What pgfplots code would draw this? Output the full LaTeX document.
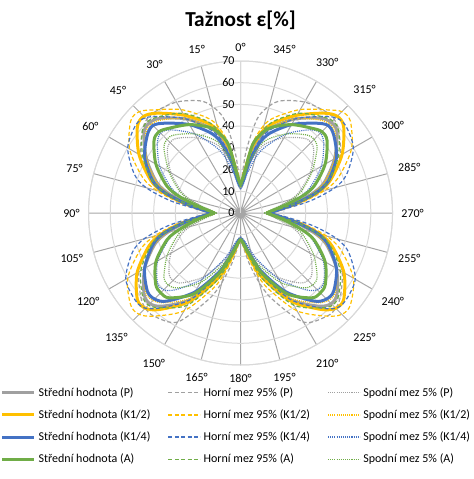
\documentclass[border=0pt]{standalone}
\usepackage{fontspec}
\setmainfont{Carlito}
\usepackage{pgfplots}
\usepackage{pgfplotstable}
\pgfplotsset{compat=1.18}
\usepgfplotslibrary{polar}

\definecolor{cP}{HTML}{A0A0A0}
\definecolor{cY}{HTML}{FFC000}
\definecolor{cB}{HTML}{4472C4}
\definecolor{cA}{HTML}{70AD47}
\definecolor{spoke}{HTML}{A6A6A6}
\definecolor{ring}{HTML}{D9D9D9}

% phi = 90 + angle (so that 0 deg is at the top, counter-clockwise)
\pgfplotstableread{
phi gm gu gl ym yu yl bm bu bl am au al
90 12 11 11 12 12 12 12 12 11 13 12 12
95 17 28 14 18 20 17 15 16 13 18 18 15
100 29 44 22 31 33 29 24 26 19 32 31 24
105 37 51 29 39 42 37 33 35 26 38 39 31
110 42 55 34 44 47 42 39 41 32 42 45 36
120 50 59 40 52 55 50 47 50 42 47 53 42
130 57 61 45 60 62 56 54 58 50 51 58 47
135 59 61 46 63 66 58 57 62 52 53 60 48
140 58 59 44 62 66 57 56 63 50 52 59 46
150 50 53 37 54 59 50 51 60 43 45 52 38
160 41 44 29 44 48 41 43 52 34 36 43 30
165 34 37 24 37 40 34 36 45 28 29 36 25
170 25 27 18 27 29 25 26 33 20 21 26 19
175 17 18 14 18 19 17 18 20 15 15 17 14
180 12 12 11 12 12 12 13 13 12 12 12 11
185 17 18 14 18 19 17 18 21 15 16 17 14
190 26 28 18 28 30 26 27 34 21 22 27 19
195 35 38 24 38 41 35 37 46 29 29 37 26
200 42 45 29 45 49 42 43 53 35 36 44 31
210 51 54 37 55 60 51 51 61 44 45 53 39
220 58 60 43 62 66 57 56 63 50 51 59 46
225 59 62 44 62 66 57 56 62 50 52 60 47
230 56 62 42 58 62 54 53 57 46 51 57 45
240 46 58 34 47 52 45 42 46 35 43 49 37
250 32 42 24 33 37 31 29 31 23 30 34 26
255 25 33 19 26 29 24 22 24 18 23 26 21
260 18 24 15 19 21 18 17 18 14 18 19 16
265 14 16 12 14 15 14 13 13 12 14 14 13
270 12 11 11 12 12 12 12 12 11 12 12 12
275 14 16 12 14 15 14 13 13 12 14 14 13
280 18 24 15 19 21 18 17 18 14 18 19 16
285 25 33 19 26 29 24 22 24 18 23 26 21
290 32 42 24 33 37 31 29 31 23 30 34 26
300 46 58 34 47 52 45 42 46 35 43 49 37
310 56 62 42 58 62 54 53 57 46 51 57 45
315 59 62 44 62 66 57 56 62 50 52 60 47
320 58 60 43 62 66 57 56 63 50 51 59 46
330 51 54 37 55 60 51 51 61 44 45 53 39
340 42 45 29 45 49 42 43 53 35 36 44 31
345 35 38 24 38 41 35 37 46 29 29 37 26
350 26 28 18 28 30 26 27 34 21 22 27 19
355 17 18 14 18 19 17 18 21 15 16 17 14
360 12 12 11 12 12 12 13 13 12 12 12 11
365 17 18 14 18 19 17 18 20 15 15 17 14
370 25 27 18 27 29 25 26 33 20 21 26 19
375 34 37 24 37 40 34 36 45 28 29 36 25
380 41 44 29 44 48 41 43 52 34 36 43 30
390 50 53 37 54 59 50 51 60 43 45 52 38
400 58 59 44 62 66 57 56 63 50 52 59 46
405 59 61 46 63 66 58 57 62 52 53 60 48
410 57 61 45 60 62 56 54 58 50 51 58 47
420 50 59 40 52 55 50 47 50 42 47 53 42
430 42 55 34 44 47 42 39 41 32 42 45 36
435 37 51 29 39 42 37 33 35 26 38 39 31
440 29 44 22 31 33 29 24 26 19 32 31 24
445 17 28 14 18 20 17 15 16 13 18 18 15
450 12 11 11 12 12 12 12 12 11 13 12 12
}\data

\tikzset{
  meanline/.style={line width=2.25pt, line join=round},
  upperline/.style={line width=0.9pt, dash pattern=on 3pt off 1.8pt},
  lowerline/.style={line width=0.9pt, dash pattern=on 0.8pt off 0.8pt},
}

% #1 line style, #2 colour, #3 table column
\newcommand{\lobes}[3]{%
  \addplot[#1, color=#2, smooth, forget plot, restrict x to domain=90:180] table[x=phi,y=#3]{\data};
  \addplot[#1, color=#2, smooth, forget plot, restrict x to domain=180:270] table[x=phi,y=#3]{\data};
  \addplot[#1, color=#2, smooth, forget plot, restrict x to domain=270:360] table[x=phi,y=#3]{\data};
  \addplot[#1, color=#2, smooth, forget plot, restrict x to domain=360:450] table[x=phi,y=#3]{\data};
}
% legend sample with hard-coded style: #1 colour, #2 line style, #3 text
\newcommand{\legitem}[3]{%
  \addlegendimage{legend image code/.code={\draw[#2, draw=#1, draw opacity=1] (0pt,0pt) -- (24pt,0pt);}}
  \addlegendentry{#3}
}

\begin{document}
\begin{tikzpicture}
\path[use as bounding box] (-180.4pt,159.75pt) rectangle (174.4pt,-199.5pt);
\node[font=\bfseries\fontsize{16}{19}\selectfont] at (0,144.75pt) {Tažnost ε[\%]};
\begin{polaraxis}[
  at={(0,0)}, anchor=origin,
  scale only axis, width=228pt, height=228pt,
  xmin=90, xmax=450, ymin=0, ymax=70,
  xtick={90,105,...,435},
  xticklabels={0°,15°,30°,45°,60°,75°,90°,105°,120°,135°,150°,165°,180°,195°,210°,225°,240°,255°,270°,285°,300°,315°,330°,345°},
  ytick={0,10,...,70},
  xmajorgrids, ymajorgrids,
  x grid style={color=spoke, line width=0.75pt},
  y grid style={color=ring, line width=0.75pt},
  axis line style={color=ring, line width=0.75pt},
  major tick length=0pt,
  tick label style={font=\fontsize{9}{11}\selectfont},
  xticklabel style={inner sep=6.5pt},
  /pgf/number format/assume math mode=true,
  yticklabel style={anchor=east, xshift=-1pt},
  legend columns=3, legend cell align=left,
  legend style={draw=none, fill=none, at={(0.488,-0.0555)}, anchor=north,
    font=\fontsize{9}{11}\selectfont, row sep=4.5pt,
    /tikz/every even column/.append style={column sep=11pt}},
]
\legitem{cP}{meanline}{Střední hodnota (P)}
\legitem{cP}{upperline}{Horní mez 95\% (P)}
\legitem{cP}{lowerline}{Spodní mez 5\% (P)}
\legitem{cY}{meanline}{Střední hodnota (K1/2)}
\legitem{cY}{upperline}{Horní mez 95\% (K1/2)}
\legitem{cY}{lowerline}{Spodní mez 5\% (K1/2)}
\legitem{cB}{meanline}{Střední hodnota (K1/4)}
\legitem{cB}{upperline}{Horní mez 95\% (K1/4)}
\legitem{cB}{lowerline}{Spodní mez 5\% (K1/4)}
\legitem{cA}{meanline}{Střední hodnota (A)}
\legitem{cA}{upperline}{Horní mez 95\% (A)}
\legitem{cA}{lowerline}{Spodní mez 5\% (A)}
\lobes{meanline}{cP}{gm}
\lobes{upperline}{cP}{gu}
\lobes{lowerline}{cP}{gl}
\lobes{meanline}{cY}{ym}
\lobes{upperline}{cY}{yu}
\lobes{lowerline}{cY}{yl}
\lobes{meanline}{cB}{bm}
\lobes{upperline}{cB}{bu}
\lobes{lowerline}{cB}{bl}
\lobes{meanline}{cA}{am}
\lobes{upperline}{cA}{au}
\lobes{lowerline}{cA}{al}
\end{polaraxis}
\end{tikzpicture}
\end{document}
